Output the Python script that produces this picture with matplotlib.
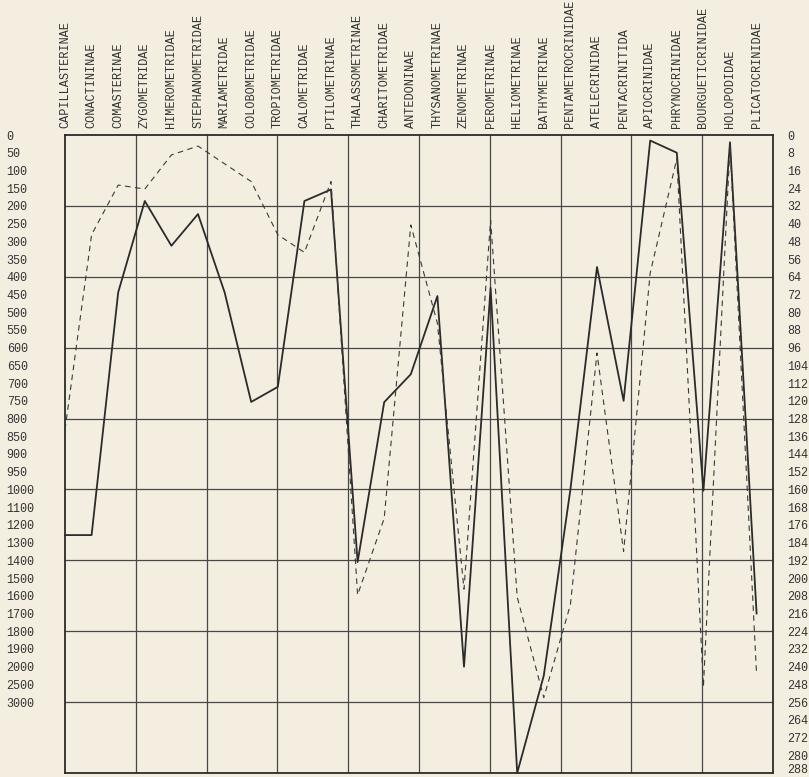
import numpy as np
import matplotlib
matplotlib.use("Agg")
import matplotlib.pyplot as plt

# ---- data ----
categories = [
    "CAPILLASTERINAE", "CONACTININAE", "COMASTERINAE", "ZYGOMETRIDAE",
    "HIMEROMETRIDAE", "STEPHANOMETRIDAE", "MARIAMETRIDAE", "COLOBOMETRIDAE",
    "TROPIOMETRIDAE", "CALOMETRIDAE", "PTILOMETRINAE", "THALASSOMETRINAE",
    "CHARITOMETRIDAE", "ANTEDONINAE", "THYSANOMETRINAE", "ZENOMETRINAE",
    "PEROMETRINAE", "HELIOMETRINAE", "BATHYMETRINAE", "PENTAMETROCRINIDAE",
    "ATELECRINIDAE", "PENTACRINITIDA", "APIOCRINIDAE", "PHRYNOCRINIDAE",
    "BOURGUETICRINIDAE", "HOLOPODIDAE", "PLICATOCRINIDAE",
]
# values in right-hand scale units (0 at top, 288 at bottom)
solid_values = [180.6, 180.6, 71, 29.8, 50, 35.7, 71, 120.5, 113.7, 29.8,
                24.6, 192.8, 120.6, 108, 72.7, 240, 69, 288, 244, 160,
                59.6, 120, 2.5, 8, 160.6, 3.3, 216]
dashed_values = [133, 45, 22.6, 24.4, 9, 5, 13, 21, 45, 53,
                 21, 207.6, 173, 40.6, 85, 205, 38.4, 208.6, 254, 212,
                 98.4, 188, 62.3, 10.7, 249, 5, 243.8]

left_labels = ([str(v) for v in range(0, 1001, 50)]
               + [str(v) for v in range(1100, 2001, 100)]
               + ["2500", "3000"])
right_labels = [str(v) for v in range(0, 289, 8)]

# ---- style ----
bg = "#f4eee1"
ink = "#2b2b2b"
font = "Liberation Mono"

fig = plt.figure(figsize=(8.09, 7.77), dpi=100, facecolor=bg)
ax = fig.add_axes([65/809, 1 - 773/777, (773-65)/809, (773-135)/777])
ax.set_facecolor(bg)

x = np.arange(len(categories))
xmax = (773 - 65) / 26.6
ax.set_xlim(0, xmax)
ax.set_ylim(288, 0)

# grid (10 columns x 9 rows)
for gx in np.linspace(0, xmax, 11)[1:-1]:
    ax.axvline(gx, color="#474747", lw=0.9, zorder=1)
for gy in np.arange(32, 288, 32):
    ax.axhline(gy, color="#474747", lw=0.9, zorder=1)

ax.plot(x, solid_values, color=ink, lw=1.3, zorder=3, clip_on=False)
ax.plot(x, dashed_values, color="#3a3a3a", lw=0.8, dashes=(5, 4), zorder=3,
        clip_on=False)

for s in ax.spines.values():
    s.set_color(ink)
    s.set_linewidth(1.3)

# top category labels
ax.xaxis.tick_top()
ax.set_xticks(x)
ax.set_xticklabels(categories, rotation=90, fontfamily=font, fontsize=8.6,
                   color="#333333")
ax.tick_params(axis="x", length=0, pad=5)

# left labels
ax.set_yticks(np.arange(len(left_labels)) * 8)
ax.set_yticklabels(left_labels, fontfamily=font, fontsize=8.5, color="#333333",
                   ha="left")
ax.tick_params(axis="y", length=0, pad=42)

# right labels
ax2 = ax.twinx()
ax2.set_ylim(288, 0)
ax2.set_yticks(np.arange(len(right_labels)) * 8)
ax2.set_yticklabels(right_labels, fontfamily=font, fontsize=8.5, color="#333333")
ax2.tick_params(axis="y", length=0, pad=10)
ax2.get_yticklabels()[-1].set_va("baseline")
for s in ax2.spines.values():
    s.set_visible(False)

fig.savefig("out.png", dpi=100, facecolor=bg)
